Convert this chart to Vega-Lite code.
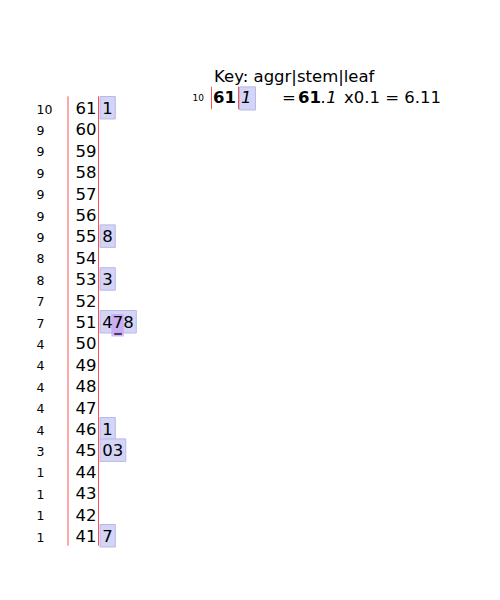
{
  "$schema": "https://vega.github.io/schema/vega-lite/v6.json",
  "width": 500,
  "height": 600,
  "padding": 0,
  "autosize": {"type": "none"},
  "background": "white",
  "config": {"view": {"stroke": null}, "text": {"font": "DejaVu Sans"}},
  "datasets": {
    "stems": [
      {"stem": 61, "aggr": 10}, {"stem": 60, "aggr": 9}, {"stem": 59, "aggr": 9},
      {"stem": 58, "aggr": 9}, {"stem": 57, "aggr": 9}, {"stem": 56, "aggr": 9},
      {"stem": 55, "aggr": 9}, {"stem": 54, "aggr": 8}, {"stem": 53, "aggr": 8},
      {"stem": 52, "aggr": 7}, {"stem": 51, "aggr": 7}, {"stem": 50, "aggr": 4},
      {"stem": 49, "aggr": 4}, {"stem": 48, "aggr": 4}, {"stem": 47, "aggr": 4},
      {"stem": 46, "aggr": 4}, {"stem": 45, "aggr": 3}, {"stem": 44, "aggr": 1},
      {"stem": 43, "aggr": 1}, {"stem": 42, "aggr": 1}, {"stem": 41, "aggr": 1}
    ],
    "leaves": [
      {"stem": 61, "pos": 0, "leaf": "1"},
      {"stem": 55, "pos": 0, "leaf": "8"},
      {"stem": 53, "pos": 0, "leaf": "3"},
      {"stem": 51, "pos": 0, "leaf": "4"},
      {"stem": 51, "pos": 1, "leaf": "7"},
      {"stem": 51, "pos": 2, "leaf": "8"},
      {"stem": 46, "pos": 0, "leaf": "1"},
      {"stem": 45, "pos": 0, "leaf": "0"},
      {"stem": 45, "pos": 1, "leaf": "3"},
      {"stem": 41, "pos": 0, "leaf": "7"}
    ],
    "one": [{}]
  },
  "data": {"name": "stems"},
  "layer": [
    {
      "data": {"name": "one"},
      "mark": {"type": "rule", "color": "#ff5050", "strokeWidth": 1},
      "encoding": {
        "x": {"value": 68},
        "y": {"datum": 61.5, "type": "quantitative", "scale": {"domain": [37.963, 66], "nice": false, "zero": false}, "axis": null},
        "y2": {"datum": 40.5}
      }
    },
    {
      "data": {"name": "one"},
      "mark": {"type": "rule", "color": "#ff5050", "strokeWidth": 1},
      "encoding": {
        "x": {"value": 98.5},
        "y": {"datum": 61.5, "type": "quantitative"},
        "y2": {"datum": 40.5}
      }
    },
    {
      "data": {"name": "leaves"},
      "mark": {"type": "rect", "fill": "#d4d4f7", "stroke": "#b9b9e6", "strokeWidth": 1, "xOffset": 13, "yOffset": -10.5, "y2Offset": 12},
      "encoding": {
        "x": {"aggregate": "max", "field": "pos", "type": "quantitative", "scale": {"domain": [0, 1], "range": [102.3, 112.8], "nice": false, "zero": false}, "axis": null},
        "x2": {"value": 100},
        "y": {"field": "stem", "type": "quantitative"},
        "y2": {"field": "stem"}
      }
    },
    {
      "data": {"name": "leaves"},
      "transform": [{"filter": "datum.stem == 51 && datum.pos == 1"}],
      "mark": {"type": "rect", "fill": "#c6a2f0", "opacity": 0.75, "xOffset": -1.5, "x2Offset": 11, "yOffset": -7, "y2Offset": 15.5},
      "encoding": {
        "x": {"field": "pos", "type": "quantitative"},
        "x2": {"field": "pos"},
        "y": {"field": "stem", "type": "quantitative"},
        "y2": {"field": "stem"}
      }
    },
    {
      "data": {"name": "leaves"},
      "transform": [{"filter": "datum.stem == 51 && datum.pos == 1"}],
      "mark": {"type": "rule", "color": "#2a1a40", "strokeWidth": 1.6, "xOffset": 1.5, "x2Offset": 9, "yOffset": 13, "y2Offset": 13},
      "encoding": {
        "x": {"field": "pos", "type": "quantitative"},
        "x2": {"field": "pos"},
        "y": {"field": "stem", "type": "quantitative"},
        "y2": {"field": "stem"}
      }
    },
    {
      "mark": {"type": "text", "align": "left", "baseline": "middle", "fontSize": 12.5, "color": "black", "dy": 2.5},
      "encoding": {
        "x": {"value": 36.5},
        "y": {"field": "stem", "type": "quantitative"},
        "text": {"field": "aggr"}
      }
    },
    {
      "mark": {"type": "text", "align": "right", "baseline": "middle", "fontSize": 16.5, "color": "black", "dy": 2},
      "encoding": {
        "x": {"value": 96.5},
        "y": {"field": "stem", "type": "quantitative"},
        "text": {"field": "stem"}
      }
    },
    {
      "data": {"name": "leaves"},
      "mark": {"type": "text", "align": "left", "baseline": "middle", "fontSize": 16.5, "color": "black", "dy": 2},
      "encoding": {
        "x": {"field": "pos", "type": "quantitative"},
        "y": {"field": "stem", "type": "quantitative"},
        "text": {"field": "leaf"}
      }
    },
    {
      "data": {"name": "one"},
      "mark": {"type": "text", "align": "left", "baseline": "middle", "fontSize": 16.5, "color": "black", "text": "Key: aggr|stem|leaf", "dy": 2},
      "encoding": {"x": {"value": 214}, "y": {"datum": 62.5, "type": "quantitative"}}
    },
    {
      "data": {"name": "one"},
      "mark": {"type": "text", "align": "left", "baseline": "middle", "fontSize": 9, "color": "black", "text": "10", "dy": 1.5},
      "encoding": {"x": {"value": 192.5}, "y": {"datum": 61.5, "type": "quantitative"}}
    },
    {
      "data": {"name": "one"},
      "mark": {"type": "rule", "color": "#ff5050", "strokeWidth": 1},
      "encoding": {"x": {"value": 211.5}, "y": {"datum": 61.95, "type": "quantitative"}, "y2": {"datum": 60.9}}
    },
    {
      "data": {"name": "one"},
      "mark": {"type": "rule", "color": "#ff5050", "strokeWidth": 1},
      "encoding": {"x": {"value": 238.5}, "y": {"datum": 61.95, "type": "quantitative"}, "y2": {"datum": 60.9}}
    },
    {
      "data": {"name": "one"},
      "mark": {"type": "text", "align": "left", "baseline": "middle", "fontSize": 16.5, "fontWeight": "bold", "color": "black", "text": "61", "dy": 1.5},
      "encoding": {"x": {"value": 213}, "y": {"datum": 61.5, "type": "quantitative"}}
    },
    {
      "data": {"name": "one"},
      "mark": {"type": "rect", "fill": "#d4d4f7", "stroke": "#b9b9e6", "strokeWidth": 1},
      "encoding": {"x": {"value": 239.5}, "x2": {"value": 255.5}, "y": {"datum": 61.94, "type": "quantitative"}, "y2": {"datum": 60.86}}
    },
    {
      "data": {"name": "one"},
      "mark": {"type": "text", "align": "left", "baseline": "middle", "fontSize": 16.5, "fontStyle": "italic", "color": "black", "text": "1", "dy": 1.5},
      "encoding": {"x": {"value": 241}, "y": {"datum": 61.5, "type": "quantitative"}}
    },
    {
      "data": {"name": "one"},
      "mark": {"type": "text", "align": "left", "baseline": "middle", "fontSize": 16.5, "color": "black", "text": "=", "dy": 1.5},
      "encoding": {"x": {"value": 282}, "y": {"datum": 61.5, "type": "quantitative"}}
    },
    {
      "data": {"name": "one"},
      "mark": {"type": "text", "align": "left", "baseline": "middle", "fontSize": 16.5, "fontWeight": "bold", "color": "black", "text": "61", "dy": 1.5},
      "encoding": {"x": {"value": 298}, "y": {"datum": 61.5, "type": "quantitative"}}
    },
    {
      "data": {"name": "one"},
      "mark": {"type": "text", "align": "left", "baseline": "middle", "fontSize": 16.5, "fontStyle": "italic", "color": "black", "text": ".1", "dy": 1.5},
      "encoding": {"x": {"value": 321}, "y": {"datum": 61.5, "type": "quantitative"}}
    },
    {
      "data": {"name": "one"},
      "mark": {"type": "text", "align": "left", "baseline": "middle", "fontSize": 16.5, "color": "black", "text": "x0.1 = 6.11", "dy": 1.5},
      "encoding": {"x": {"value": 344}, "y": {"datum": 61.5, "type": "quantitative"}}
    }
  ]
}
